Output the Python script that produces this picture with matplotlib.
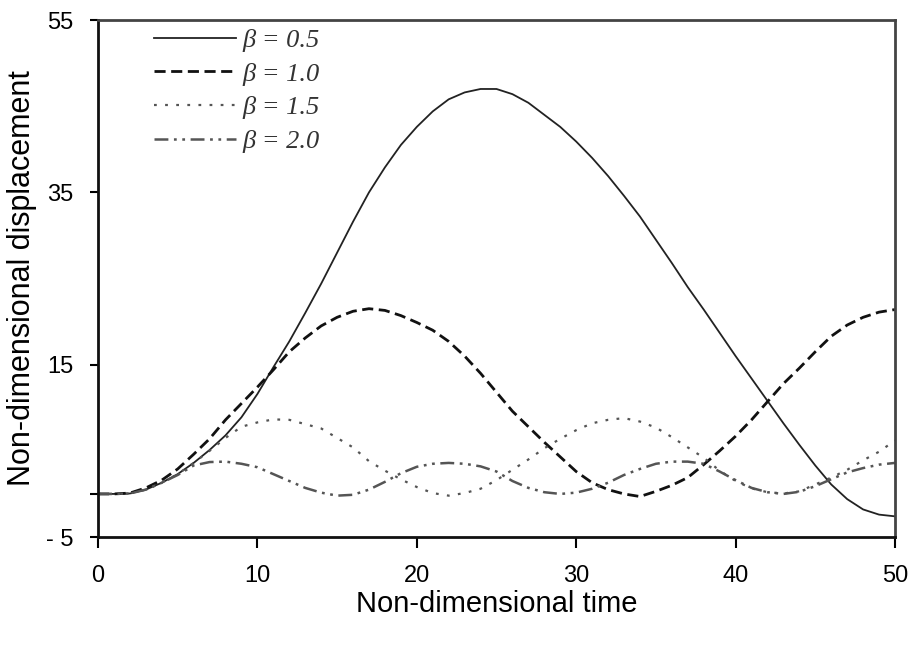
import matplotlib
matplotlib.use("Agg")
import matplotlib.pyplot as plt
from matplotlib.ticker import FixedLocator, FuncFormatter

plt.rcParams["font.family"] = ["Liberation Sans", "DejaVu Sans"]
plt.rcParams["lines.scale_dashes"] = False

# time axis (non-dimensional)
t = list(range(0, 51))

# displacement for each beta at integer times
beta_05 = [0, 0, 0.05, 0.5, 1.3, 2.3, 3.6, 5.1, 6.8, 8.9, 11.6, 14.7, 17.7, 21.0, 24.4,
           28.0, 31.6, 35.0, 37.9, 40.5, 42.6, 44.4, 45.8, 46.6, 47.0, 47.0, 46.4, 45.4,
           44.0, 42.6, 40.9, 39.0, 36.9, 34.6, 32.2, 29.5, 26.8, 24.0, 21.4, 18.7, 16.0,
           13.4, 10.8, 8.2, 5.7, 3.3, 1.1, -0.6, -1.8, -2.4, -2.6]
beta_10 = [0, 0, 0.1, 0.7, 1.6, 2.9, 4.6, 6.4, 8.6, 10.5, 12.4, 14.4, 16.5, 18.1, 19.5,
           20.5, 21.2, 21.5, 21.3, 20.7, 19.9, 19.0, 17.7, 16.0, 14.0, 11.8, 9.6, 7.8,
           6.0, 4.3, 2.6, 1.3, 0.5, 0.0, -0.3, 0.3, 1.0, 1.9, 3.4, 5.0, 6.7, 8.6, 10.7,
           12.8, 14.6, 16.5, 18.3, 19.6, 20.5, 21.1, 21.4]
beta_15 = [0, 0, 0.05, 0.5, 1.3, 2.3, 3.6, 5.0, 6.5, 7.8, 8.3, 8.65, 8.6, 8.1, 7.6,
           6.5, 5.4, 3.8, 2.7, 1.7, 0.8, 0.1, -0.2, 0.1, 0.6, 1.6, 2.8, 4.0, 5.3, 6.4,
           7.4, 8.2, 8.6, 8.8, 8.4, 7.7, 6.6, 5.4, 4.2, 2.7, 1.5, 0.65, 0.2, 0.05, 0.3,
           1.1, 1.9, 2.8, 3.9, 4.9, 6.2]
beta_20 = [0, 0, 0.05, 0.5, 1.3, 2.2, 3.3, 3.7, 3.75, 3.5, 3.1, 2.3, 1.5, 0.7, 0.15,
           -0.2, -0.1, 0.5, 1.4, 2.4, 3.15, 3.5, 3.6, 3.5, 3.2, 2.6, 1.5, 0.7, 0.2, 0.0,
           0.15, 0.6, 1.3, 2.2, 2.9, 3.5, 3.75, 3.75, 3.5, 2.6, 1.6, 0.7, 0.2, 0.0, 0.25,
           0.9, 1.7, 2.5, 3.0, 3.4, 3.6]

labels = ["\u03b2 = 0.5", "\u03b2 = 1.0", "\u03b2 = 1.5", "\u03b2 = 2.0"]

fig = plt.figure(figsize=(9.1, 6.47), dpi=100)
ax = fig.add_axes([0.1077, 0.17, 0.8758, 0.799])

ax.plot(t, beta_05, color="#222222", lw=1.3, label=labels[0])
ax.plot(t, beta_10, color="#111111", lw=2.0, dashes=(8, 4), label=labels[1])
ax.plot(t, beta_15, color="#555555", lw=1.6, dashes=(2, 6), label=labels[2])
ax.plot(t, beta_20, color="#555555", lw=1.8, dashes=(10, 4, 2, 4, 2, 4), label=labels[3])

ax.set_xlim(0, 50)
ax.set_ylim(-5, 55)
ax.set_xticks([0, 10, 20, 30, 40, 50])
ax.set_yticks([-5, 15, 35, 55])
ax.yaxis.set_major_formatter(FuncFormatter(lambda v, p: f"{v:.0f}".replace("-", "- ")))
ax.yaxis.set_minor_locator(FixedLocator([0]))

ax.tick_params(axis="x", direction="out", length=8, width=1.5, labelsize=17, pad=12)
ax.tick_params(axis="y", direction="out", length=6, width=1.5, labelsize=17, pad=12)
ax.tick_params(axis="y", which="minor", direction="out", length=6, width=1.5)

for side in ["left", "bottom"]:
    ax.spines[side].set_linewidth(2.0)
    ax.spines[side].set_color("#111111")
for side in ["top", "right"]:
    ax.spines[side].set_linewidth(2.0)
    ax.spines[side].set_color("#444444")

ax.set_xlabel("Non-dimensional time", fontsize=21, labelpad=2)
ax.set_ylabel("Non-dimensional displacement", fontsize=22, labelpad=6)

leg = ax.legend(loc="upper left", bbox_to_anchor=(0.07, 0.984), frameon=False,
                handlelength=3.1, handletextpad=0.25, labelspacing=0.39,
                borderpad=0, borderaxespad=0,
                prop={"family": ["Liberation Serif", "DejaVu Serif"], "style": "italic", "size": 19})
for txt in leg.get_texts():
    txt.set_color("#333333")

fig.savefig("out.png", dpi=100)
